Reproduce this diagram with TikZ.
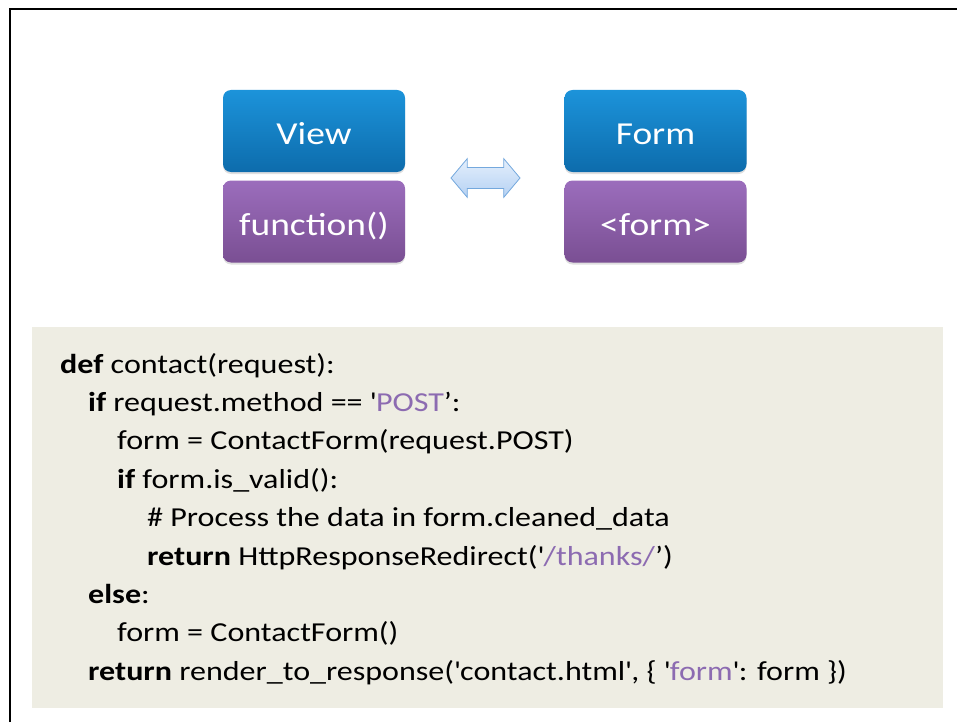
\documentclass[tikz,border=0pt]{standalone}
\usepackage{fontspec}
\setmainfont{Carlito}[FakeStretch=1.17]
\usetikzlibrary{shapes.arrows,shadows,positioning}

\definecolor{codebg}{HTML}{EEEDE3}
\definecolor{strpurple}{HTML}{8C6BB1}
\definecolor{bluetop}{HTML}{1C93DA}
\definecolor{bluebot}{HTML}{0D6CAC}
\definecolor{purptop}{HTML}{9B6DBC}
\definecolor{purpbot}{HTML}{7A4F93}
\definecolor{arrowtop}{HTML}{E4EFFC}
\definecolor{arrowbot}{HTML}{B5D1F3}
\definecolor{arrowline}{HTML}{74A8DD}

\newcommand{\kw}[1]{\textbf{#1}}
\newcommand{\strlit}[1]{\textcolor{strpurple}{#1}}
\newcommand{\sq}{\textquotesingle}

\begin{document}
\begin{tikzpicture}[x=1pt,y=-1pt]

      \tikzset{block/.style={rounded corners=8pt, minimum width=182pt, minimum height=82pt, inner sep=0pt,
                             text height=28pt, text depth=0pt,
                             text=white, font=\fontsize{32}{36}\selectfont,
                             drop shadow={opacity=0.25, shadow xshift=0pt, shadow yshift=-2pt}},
               blueblock/.style={block, top color=bluetop, bottom color=bluebot},
               purpleblock/.style={block, top color=purptop, bottom color=purpbot},
               codeline/.style={anchor=base west, inner sep=0pt, font=\fontsize{27.4}{30}\selectfont}}

      \useasboundingbox (0,0) rectangle (957,722);
% Frame and code panel
      	\draw[line width=2pt] (10,722) -- (10,9) -- (957,9);
      	\fill[codebg] (32,327) rectangle (943,708);
% Blocks
      	\node[blueblock] (view) at (314,131) {View};
      	\node[purpleblock] (func) at (314,221.5) {function()};
      	\node[blueblock] (form) at (655.5,131) {Form};
      	\node[purpleblock] (formtag) at (655.5,221.5) {<form>};
% Link
      	\node[double arrow, draw=arrowline, line width=0.8pt, top color=arrowtop, bottom color=arrowbot,
      	      inner xsep=0pt, inner ysep=10pt, minimum height=69pt, double arrow head extend=9pt,
      	      double arrow tip angle=100] (link) at (485.5,178) {};
% Code
      	\node[codeline] (l1) at (60,373) {\kw{def} contact(request):};
      	\node[codeline] (l2) at (88,411.4) {\kw{if} request.method == \sq\strlit{POST}’:};
      	\node[codeline] (l3) at (117,449.8) {form = ContactForm(request.POST)};
      	\node[codeline] (l4) at (117,488.2) {\kw{if} form.is\_valid():};
      	\node[codeline] (l5) at (147,526.6) {\# Process the data in form.cleaned\_data};
      	\node[codeline] (l6) at (147,565) {\kw{return} HttpResponseRedirect(\sq\strlit{/thanks/}’)};
      	\node[codeline] (l7) at (88,603.4) {\kw{else}:};
      	\node[codeline] (l8) at (117,641.8) {form = ContactForm()};
      	\node[codeline] (l9) at (88,680.2) {\kw{return} render\_to\_response(\sq contact.html\sq, \{ \sq\strlit{form}\sq: form \})};

	\end{tikzpicture}
\end{document}
